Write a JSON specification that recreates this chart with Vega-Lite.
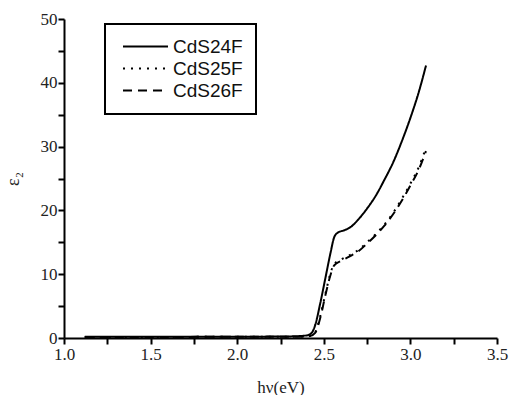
{
  "$schema": "https://vega.github.io/schema/vega-lite/v6.json",
  "autosize": "none",
  "width": 433,
  "height": 319,
  "padding": {"left": 64, "top": 19, "right": 12, "bottom": 57},
  "background": "white",
  "config": {"view": {"stroke": null}, "legend": {"strokeWidth": 2}},
  "data": {"values": [
    {"x": 1.12, "y": 0.2, "s": "CdS24F"},
    {"x": 1.5, "y": 0.2, "s": "CdS24F"},
    {"x": 2.0, "y": 0.2, "s": "CdS24F"},
    {"x": 2.3, "y": 0.25, "s": "CdS24F"},
    {"x": 2.4, "y": 0.4, "s": "CdS24F"},
    {"x": 2.43, "y": 0.8, "s": "CdS24F"},
    {"x": 2.45, "y": 2.0, "s": "CdS24F"},
    {"x": 2.48, "y": 5.5, "s": "CdS24F"},
    {"x": 2.51, "y": 9.5, "s": "CdS24F"},
    {"x": 2.54, "y": 13.5, "s": "CdS24F"},
    {"x": 2.56, "y": 15.8, "s": "CdS24F"},
    {"x": 2.58, "y": 16.5, "s": "CdS24F"},
    {"x": 2.62, "y": 16.9, "s": "CdS24F"},
    {"x": 2.66, "y": 17.5, "s": "CdS24F"},
    {"x": 2.7, "y": 18.6, "s": "CdS24F"},
    {"x": 2.75, "y": 20.3, "s": "CdS24F"},
    {"x": 2.8, "y": 22.3, "s": "CdS24F"},
    {"x": 2.85, "y": 24.8, "s": "CdS24F"},
    {"x": 2.9, "y": 27.5, "s": "CdS24F"},
    {"x": 2.95, "y": 30.8, "s": "CdS24F"},
    {"x": 3.0, "y": 34.5, "s": "CdS24F"},
    {"x": 3.05, "y": 38.7, "s": "CdS24F"},
    {"x": 3.09, "y": 42.7, "s": "CdS24F"},
    {"x": 1.12, "y": 0.15, "s": "CdS25F"},
    {"x": 1.5, "y": 0.15, "s": "CdS25F"},
    {"x": 2.0, "y": 0.2, "s": "CdS25F"},
    {"x": 2.3, "y": 0.2, "s": "CdS25F"},
    {"x": 2.42, "y": 0.3, "s": "CdS25F"},
    {"x": 2.45, "y": 0.9, "s": "CdS25F"},
    {"x": 2.48, "y": 3.5, "s": "CdS25F"},
    {"x": 2.51, "y": 7.0, "s": "CdS25F"},
    {"x": 2.54, "y": 10.3, "s": "CdS25F"},
    {"x": 2.56, "y": 11.6, "s": "CdS25F"},
    {"x": 2.6, "y": 12.3, "s": "CdS25F"},
    {"x": 2.65, "y": 13.0, "s": "CdS25F"},
    {"x": 2.7, "y": 13.8, "s": "CdS25F"},
    {"x": 2.75, "y": 15.0, "s": "CdS25F"},
    {"x": 2.8, "y": 16.3, "s": "CdS25F"},
    {"x": 2.85, "y": 17.8, "s": "CdS25F"},
    {"x": 2.9, "y": 19.6, "s": "CdS25F"},
    {"x": 2.95, "y": 21.8, "s": "CdS25F"},
    {"x": 3.0, "y": 24.2, "s": "CdS25F"},
    {"x": 3.05, "y": 26.9, "s": "CdS25F"},
    {"x": 3.09, "y": 29.8, "s": "CdS25F"},
    {"x": 1.12, "y": 0.15, "s": "CdS26F"},
    {"x": 1.5, "y": 0.15, "s": "CdS26F"},
    {"x": 2.0, "y": 0.2, "s": "CdS26F"},
    {"x": 2.3, "y": 0.2, "s": "CdS26F"},
    {"x": 2.42, "y": 0.3, "s": "CdS26F"},
    {"x": 2.45, "y": 0.8, "s": "CdS26F"},
    {"x": 2.48, "y": 3.2, "s": "CdS26F"},
    {"x": 2.51, "y": 6.8, "s": "CdS26F"},
    {"x": 2.54, "y": 10.0, "s": "CdS26F"},
    {"x": 2.56, "y": 11.4, "s": "CdS26F"},
    {"x": 2.6, "y": 12.1, "s": "CdS26F"},
    {"x": 2.65, "y": 12.8, "s": "CdS26F"},
    {"x": 2.7, "y": 13.6, "s": "CdS26F"},
    {"x": 2.75, "y": 14.8, "s": "CdS26F"},
    {"x": 2.8, "y": 16.1, "s": "CdS26F"},
    {"x": 2.85, "y": 17.6, "s": "CdS26F"},
    {"x": 2.9, "y": 19.4, "s": "CdS26F"},
    {"x": 2.95, "y": 21.5, "s": "CdS26F"},
    {"x": 3.0, "y": 23.9, "s": "CdS26F"},
    {"x": 3.05, "y": 26.5, "s": "CdS26F"},
    {"x": 3.09, "y": 29.3, "s": "CdS26F"}
  ]},
  "mark": {"type": "line", "color": "black", "strokeWidth": 2, "interpolate": "monotone", "clip": true},
  "encoding": {
    "x": {
      "field": "x", "type": "quantitative",
      "scale": {"domain": [1.0, 3.5], "nice": false, "zero": false},
      "axis": {
        "title": "hν(eV)",
        "values": [1.0, 1.25, 1.5, 1.75, 2.0, 2.25, 2.5, 2.75, 3.0, 3.25, 3.5],
        "labelExpr": "(round(datum.value*100) % 50 == 0) ? format(datum.value, '.1f') : ''",
        "domainColor": "black", "domainWidth": 2,
        "tickColor": "black", "tickWidth": 2, "tickSize": 6,
        "labelFont": "Liberation Serif", "labelFontSize": 17, "labelColor": "#222",
        "labelPadding": 2, "labelFlush": false, "labelOverlap": false,
        "grid": false,
        "titleFont": "Liberation Serif", "titleFontSize": 17, "titleFontWeight": "normal", "titleColor": "#222",
        "titlePadding": 17
      }
    },
    "y": {
      "field": "y", "type": "quantitative",
      "scale": {"domain": [0, 50], "nice": false},
      "axis": {
        "title": "ε₂",
        "values": [0, 5, 10, 15, 20, 25, 30, 35, 40, 45, 50],
        "labelExpr": "datum.value % 10 == 0 ? datum.label : ''",
        "domainColor": "black", "domainWidth": 2,
        "tickColor": "black", "tickWidth": 2, "tickSize": 6,
        "labelFont": "Liberation Serif", "labelFontSize": 17, "labelColor": "#222",
        "labelPadding": 1, "labelOverlap": false,
        "grid": false,
        "titleFont": "Liberation Serif", "titleFontSize": 18, "titleFontWeight": "normal", "titleColor": "#222",
        "titlePadding": 18
      }
    },
    "strokeDash": {
      "field": "s", "type": "nominal",
      "scale": {"domain": ["CdS24F", "CdS25F", "CdS26F"], "range": [[1, 0], [2, 6], [9, 6]]},
      "legend": {
        "title": null,
        "orient": "none", "legendX": 41, "legendY": 5,
        "strokeColor": "black", "fillColor": "white",
        "padding": 13,
        "symbolType": "M-3,0H3", "symbolSize": 225, "symbolStrokeWidth": 2, "symbolStrokeColor": "black", "symbolFillColor": "transparent",
        "symbolOffset": 18,
        "labelFont": "Liberation Sans", "labelFontSize": 19, "labelColor": "#111",
        "labelOffset": 18, "rowPadding": 2
      }
    }
  }
}
